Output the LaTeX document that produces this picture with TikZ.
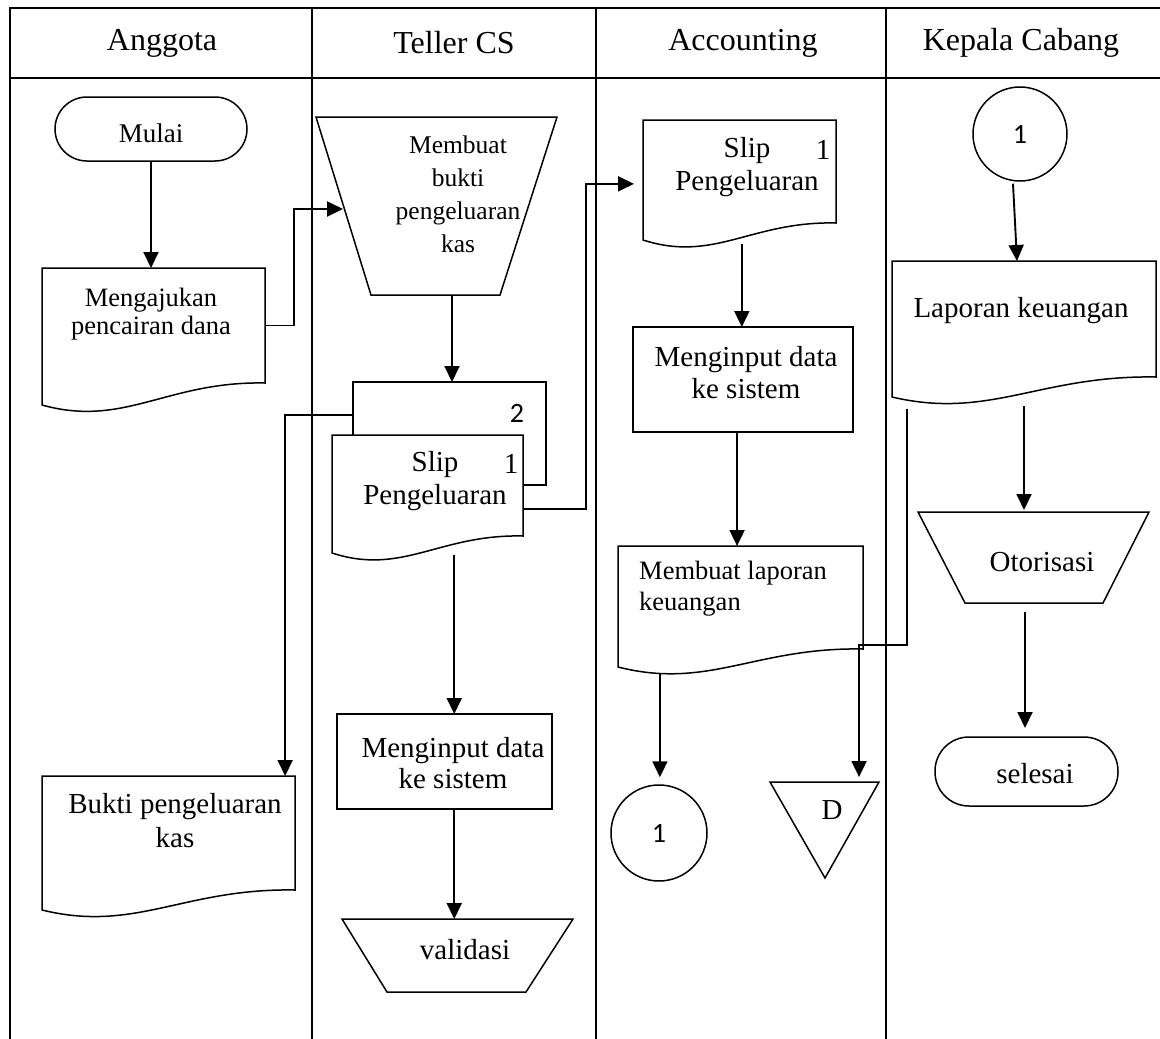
\documentclass[tikz,border=0pt]{standalone}
\usepackage{fontspec}
\setmainfont{Liberation Serif}
\newfontfamily\sansnum{Carlito}
\usetikzlibrary{calc,arrows.meta}
\newcommand\fsz[2]{\fontsize{#1}{#2}\selectfont}
\newcommand\docout[2]{\draw[shp] (#1.north west) -- (#1.north east) -- (#1.south east)
  .. controls ($(#1.south east)!0.44!(#1.south west)+(0,-2)$) and ($(#1.south west)!0.37!(#1.south east)+(0,#2+23)$) .. ($(#1.south west)+(0,#2)$) -- cycle;}
\begin{document}
\begin{tikzpicture}[x=1pt,y=-1pt,
  frame/.style={line width=2.4pt},
  divider/.style={line width=2pt},
  shp/.style={line width=1.5pt},
  arr/.style={line width=1.9pt,-{Triangle[length=16pt,width=15pt]}},
  area/.style={draw=none,inner sep=0pt,outer sep=0pt},
  txt/.style={inner sep=0pt,align=center},
  head/.style={inner sep=0pt,font=\fsz{32}{36}}]
\useasboundingbox (0,0) rectangle (1160,1039);
\fill[white] (0,0) rectangle (1160,1039);
% table frame
\draw[frame] (10,1039) -- (10,8) -- (1160,8);
\draw[frame] (10,78) -- (1160,78);
\draw[divider] (312,8) -- (312,1039);
\draw[divider] (596,8) -- (596,1039);
\draw[divider] (886,8) -- (886,1039);
\node[head] (hA) at (162,43) {Anggota};
\node[head] (hT) at (454,43) {Teller CS};
\node[head] (hAc) at (743,43) {Accounting};
\node[head] (hK) at (1021,43) {Kepala Cabang};
% ---------------- Anggota
\node[area,draw,shp,minimum width=192pt,minimum height=64pt,rounded corners=32pt] (mulai) at (151,129) {};
\node[txt,font=\fsz{27}{30}] (tMulai) at (151,133) {Mulai};
\node[area,minimum width=223pt,minimum height=115pt] (meng) at (153.5,325.5) {};
\docout{meng}{22}
\node[txt,font=\fsz{26.5}{28}] (tMeng) at (151,314) {Mengajukan\\pencairan dana};
\node[area,minimum width=253pt,minimum height=114pt] (bukti) at (168.5,833) {};
\docout{bukti}{20}
\node[txt,font=\fsz{29}{34}] (tBukti) at (175,821) {Bukti pengeluaran\\kas};
% ---------------- Teller CS
\node[area,minimum width=241pt,minimum height=178pt] (memb) at (452,206) {};
\draw[shp] (316,117) -- (557,117) -- (500,295) -- (371,295) -- cycle;
\node[txt,font=\fsz{25.5}{33}] (tMemb) at (458,194) {Membuat\\bukti\\pengeluaran\\kas};
\node[area,minimum width=193pt,minimum height=103pt] (slipB) at (449.5,433.5) {};
\node[area,minimum width=191pt,minimum height=101pt] (slipF) at (427.5,485.5) {};
\draw[shp] (slipB.west |- slipF.north) -- (slipB.north west) -- (slipB.north east) -- (slipB.south east) -- (slipB.south -| slipF.east);
\node[font=\sansnum\fsz{28}{30},inner sep=0pt] (n2) at (517,413) {2};
\docout{slipF}{17}
\node[txt,font=\fsz{29}{33}] (tSlipF) at (435,481) {Slip\\Pengeluaran};
\node[font=\fsz{29}{33},inner sep=0pt] (n1F) at (511,464) {1};
\node[area,draw,shp,minimum width=215pt,minimum height=95pt] (inT) at (444.5,761.5) {};
\node[txt,font=\fsz{29}{31}] (tInT) at (453,763) {Menginput data\\ke sistem};
\node[area,minimum width=231pt,minimum height=73pt] (vali) at (457.5,955.5) {};
\draw[shp] (342,919) -- (573,919) -- (526,992) -- (387,992) -- cycle;
\node[txt,font=\fsz{29}{31}] (tVali) at (465,950) {validasi};
% ---------------- Accounting
\node[area,minimum width=193pt,minimum height=103pt] (slipA) at (739.5,171.5) {};
\docout{slipA}{17}
\node[txt,font=\fsz{29}{33}] (tSlipA) at (747,167) {Slip\\Pengeluaran};
\node[font=\fsz{29}{33},inner sep=0pt] (n1A) at (823,150) {1};
\node[area,draw,shp,minimum width=220pt,minimum height=105pt] (inA) at (743,379.5) {};
\node[txt,font=\fsz{29}{32}] (tInA) at (746,373) {Menginput data\\ke sistem};
\node[area,minimum width=245pt,minimum height=103pt] (lapA) at (740.5,597.5) {};
\docout{lapA}{18}
\node[txt,align=left,anchor=west,font=\fsz{26.5}{31}] (tLapA) at (639,589) {Membuat laporan\\keuangan};
\node[circle,draw,shp,minimum size=96pt,inner sep=0pt,font=\sansnum\fsz{28}{30}] (c1A) at (659,833) {1};
\node[area,minimum width=109pt,minimum height=96pt] (trD) at (824.5,830) {};
\draw[shp] (770,782) -- (879,782) -- (825,878) -- cycle;
\node[txt,font=\fsz{29}{31}] (tD) at (832,810) {D};
% ---------------- Kepala Cabang
\node[circle,draw,shp,minimum size=94pt,inner sep=0pt,font=\sansnum\fsz{28}{30}] (c1K) at (1020,134) {1};
\node[area,minimum width=264pt,minimum height=116pt] (lapK) at (1024,319) {};
\docout{lapK}{20}
\node[txt,font=\fsz{29}{31}] (tLapK) at (1021,311) {Laporan keuangan};
\node[area,minimum width=231pt,minimum height=91pt] (otor) at (1033.5,557.5) {};
\draw[shp] (918,512) -- (1149,512) -- (1103,603) -- (965,603) -- cycle;
\node[txt,font=\fsz{29}{31}] (tOtor) at (1042,562) {Otorisasi};
\node[area,draw,shp,minimum width=183pt,minimum height=69pt,rounded corners=34pt] (sel) at (1026.5,771.5) {};
\node[txt,font=\fsz{29}{31}] (tSel) at (1035,774) {selesai};
% ---------------- connectors
\coordinate (membIn) at (343,209);
\coordinate (slipBl) at ($(slipB.north west)!0.32!(slipB.south west)$);
\coordinate (buktiIn) at ($(bukti.north west)!0.961!(bukti.north east)$);
\coordinate (slipFr) at ($(slipF.north east)!0.73!(slipF.south east)$);
\coordinate (slipAin) at ($(slipA.north west)!0.62!(slipA.south west)$);
\coordinate (slipFb) at ($(slipF.south west)!0.64!(slipF.south east)+(0,19)$);
\coordinate (slipAb) at ($(slipA.south west)!0.512!(slipA.south east)+(0,21)$);
\coordinate (inAb) at ($(inA.south west)!0.473!(inA.south east)$);
\coordinate (lapAb) at ($(lapA.south west)!0.171!(lapA.south east)+(0,25)$);
\coordinate (lapKl) at ($(lapK.south west)!0.057!(lapK.south east)+(0,32)$);
\coordinate (dIn) at ($(trD.north west)!0.817!(trD.north east)$);
\coordinate (lapKb) at ($(lapK.south west)!0.5!(lapK.south east)+(0,29)$);
\coordinate (otorb) at ($(otor.south)+(-8.5,9)$);
\draw[arr] (mulai.south) -- (mulai.south |- meng.north);
\draw[arr] (meng.east) -- ++(29,0) |- (membIn);
\draw[arr] (memb.south) -- (memb.south |- slipB.north);
\draw[arr] (slipBl) -| (buktiIn);
\draw[arr,shorten >=9pt] (slipFr) -- ++(63,0) |- (slipAin);
\draw[arr] (slipFb) -- (slipFb |- inT.north);
\draw[arr] (inT.south -| slipFb) -- (slipFb |- vali.north);
\draw[arr] (slipAb) -- (slipAb |- inA.north);
\draw[arr] (inAb) -- (inAb |- lapA.north);
\draw[arr,shorten >=7pt] (lapAb) -- (lapAb |- c1A.north);
\draw[arr,shorten >=5pt] (lapKl) -- ++(0,236) -| (dIn);
\draw[arr] ($(c1K.south)+(-7,2)$) -- ($(lapK.north)+(-7,0)$);
\draw[arr,shorten >=2pt] (lapKb) -- (lapKb |- otor.north);
\draw[arr,shorten >=9pt] (otorb) -- (otorb |- sel.north);
\end{tikzpicture}
\end{document}
